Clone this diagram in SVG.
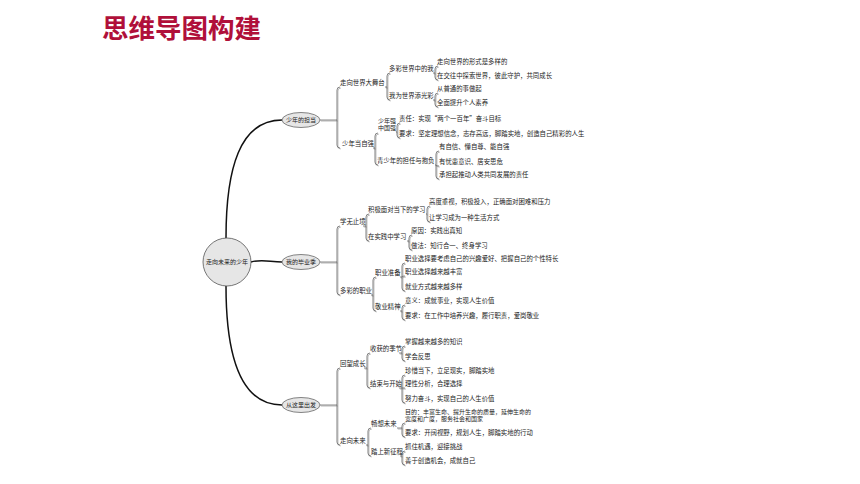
<svg xmlns="http://www.w3.org/2000/svg" xmlns:xlink="http://www.w3.org/1999/xlink" width="860" height="484" viewBox="0 0 860 484">
<defs>
<filter id="sh" x="-5%" y="-50%" width="110%" height="300%">
<feDropShadow dx="0.8" dy="1" stdDeviation="0.35" flood-color="#8a8a8a" flood-opacity="0.9"/>
</filter>
<style>
text{font-family:"Noto Sans CJK SC","Noto Sans",sans-serif;fill:#222;}
.t{font-size:6.4px;}
.t2{font-size:6px;font-family:"Liberation Sans","Noto Sans CJK SC",sans-serif;}
.c{font-size:6px;text-anchor:middle;}
.ul{fill:none;stroke:#333;stroke-width:0.7;filter:url(#sh);}
.br{fill:none;stroke:#555;stroke-width:0.7;}
.root{fill:none;stroke:#111;stroke-width:1.5;}
.ell{fill:#e6e6e6;stroke:#666;stroke-width:0.8;}
.title{font-size:26.5px;font-weight:bold;fill:#B0103A;}
</style>
</defs>
<rect width="860" height="484" fill="#fff"/>
<text class="title" x="102" y="38">思维导图构建</text>

<g id="connectors">
<g class="root">
<path d="M226 238 C226 168 240 120 282 120"/>
<path d="M251 262 C262 259 270 262 282 262"/>
<path d="M226 286 C226 356 240 405 282 405"/>
</g>
<g class="br" filter="url(#sh)">
<path d="M320 120 H337 M337 120 V90 Q337 87 340 87 M337 120 V145 Q337 148 340 148"/>
<path d="M385 87 H387 V76 Q387 73 390 73 M387 87 V97 Q387 100 390 100"/>
<path d="M433 73 H435 V69 Q435 66 438 66 M435 73 V77 Q435 80 438 80"/>
<path d="M433 100 H435 V96 Q435 93 438 93 M435 100 V104 Q435 107 438 107"/>
<path d="M373 148 H375 V136 Q375 133 378 133 M375 148 V162 Q375 165 378 165"/>
<path d="M396 132 H397 V126 Q397 123 400 123 M397 132 V135 Q397 138 400 138"/>
<path d="M435 165 H436 V154 Q436 151 439 151 M436 165 V176 Q436 179 439 179 M436 165 Q436 166 439 166"/>
<path d="M320 262 H337 M337 262 V229 Q337 226 340 226 M337 262 V292 Q337 295 340 295"/>
<path d="M363 226 H366 V217 Q366 214 369 214 M366 226 V238 Q366 241 369 241"/>
<path d="M426 214 H427 V209 Q427 206 430 206 M427 214 V219 Q427 222 430 222"/>
<path d="M407 241 H409 V238 Q409 235 412 235 M409 241 V247 Q409 250 412 250"/>
<path d="M371 295 H373 V280 Q373 277 376 277 M373 295 V308 Q373 311 376 311"/>
<path d="M400 277 H402 V266 Q402 263 405 263 M402 277 V288 Q402 291 405 291 M402 277 Q402 276 405 276"/>
<path d="M400 311 H402 V308 Q402 305 405 305 M402 311 V317 Q402 320 405 320"/>
<path d="M320 405 H337 M337 405 V371 Q337 368 340 368 M337 405 V442 Q337 445 340 445"/>
<path d="M364 368 H367 V356 Q367 353 370 353 M367 368 V385 Q367 388 370 388"/>
<path d="M399 353 H402 V349 Q402 346 405 346 M402 353 V358 Q402 361 405 361"/>
<path d="M399 388 H405 M402 388 V378 Q402 375 405 375 M402 388 V400 Q402 403 405 403"/>
<path d="M366 445 H368 V431 Q368 428 371 428 M368 445 V453 Q368 456 371 456"/>
<path d="M397 428 H402 V426 Q402 423 405 423 M402 428 V434 Q402 437 405 437"/>
<path d="M400 456 H402 V454 Q402 451 405 451 M402 456 V462 Q402 465 405 465"/>
</g>
</g>

<g id="root-node">
<circle cx="227" cy="262" r="24" fill="#e6e6e6" stroke="#555" stroke-width="0.8"/>
<text class="c" x="227" y="264.2">走向未来的少年</text>
</g>

<g id="n-danDang"><ellipse class="ell" cx="301" cy="120" rx="19" ry="7.5"/><text class="c" x="301" y="122.2">少年的担当</text></g>
<g id="n-biye"><ellipse class="ell" cx="301" cy="262" rx="19" ry="7.5"/><text class="c" x="301" y="264.2">我的毕业季</text></g>
<g id="n-chufa"><ellipse class="ell" cx="301" cy="405" rx="19" ry="7.5"/><text class="c" x="301" y="407.2">从这里出发</text></g>

<g id="n-A"><text class="t" x="340" y="85.4">走向世界大舞台</text><path class="ul" d="M340 87 H385"/></g>
<g id="n-A1"><text class="t" x="389" y="71.4">多彩世界中的我</text><path class="ul" d="M390 73 H433"/></g>
<g id="n-A1a"><text class="t" x="437" y="64.4">走向世界的形式是多样的</text><path class="ul" d="M438 66 H508"/></g>
<g id="n-A1b"><text class="t" x="437" y="78.4">在交往中探索世界，彼此守护，共同成长</text><path class="ul" d="M438 80 H553"/></g>
<g id="n-A2"><text class="t" x="389" y="98.4">我为世界添光彩</text><path class="ul" d="M390 100 H433"/></g>
<g id="n-A2a"><text class="t" x="437" y="91.4">从普通的事做起</text><path class="ul" d="M438 93 H483"/></g>
<g id="n-A2b"><text class="t" x="437" y="105.4">全面提升个人素养</text><path class="ul" d="M438 107 H491"/></g>
<g id="n-B"><text class="t" x="342" y="146.4">少年当自强</text><path class="ul" d="M340 148 H373"/></g>
<g id="n-B1"><text class="t2" x="378" y="123">少年强<tspan x="378" y="130.4">中国强</tspan></text><path class="ul" d="M378 132 H396"/></g>
<g id="n-B1a"><text class="t" x="399" y="121.4">责任：实现“两个一百年”奋斗目标</text><path class="ul" d="M400 123 H503"/></g>
<g id="n-B1b"><text class="t" x="399" y="136.4">要求：坚定理想信念，志存高远，脚踏实地，创造自己精彩的人生</text><path class="ul" d="M400 138 H586"/></g>
<g id="n-B2"><text class="t" x="377" y="163.4">青少年的担任与抱负</text><path class="ul" d="M378 165 H435"/></g>
<g id="n-B2a"><text class="t" x="439" y="149.4">有自信、懂自尊、能自强</text><path class="ul" d="M439 151 H509"/></g>
<g id="n-B2b"><text class="t" x="439" y="164.4">有忧患意识、居安思危</text><path class="ul" d="M439 166 H503"/></g>
<g id="n-B2c"><text class="t" x="439" y="177.4">承担起推动人类共同发展的责任</text><path class="ul" d="M439 179 H529"/></g>

<g id="n-C"><text class="t" x="340" y="224.4">学无止境</text><path class="ul" d="M340 226 H363"/></g>
<g id="n-C1"><text class="t" x="368" y="212.4">积极面对当下的学习</text><path class="ul" d="M369 214 H426"/></g>
<g id="n-C1a"><text class="t" x="429" y="204.4">高度重视，积极投入，正确面对困难和压力</text><path class="ul" d="M430 206 H551"/></g>
<g id="n-C1b"><text class="t" x="429" y="220.4">让学习成为一种生活方式</text><path class="ul" d="M430 222 H499"/></g>
<g id="n-C2"><text class="t" x="368" y="239.4">在实践中学习</text><path class="ul" d="M369 241 H407"/></g>
<g id="n-C2a"><text class="t" x="411" y="233.4">原因：实践出真知</text><path class="ul" d="M412 235 H463"/></g>
<g id="n-C2b"><text class="t" x="411" y="248.4">做法：知行合一、终身学习</text><path class="ul" d="M412 250 H488"/></g>
<g id="n-D"><text class="t" x="340" y="293.4">多彩的职业</text><path class="ul" d="M340 295 H371"/></g>
<g id="n-D1"><text class="t" x="375" y="275.4">职业准备</text><path class="ul" d="M376 277 H400"/></g>
<g id="n-D1a"><text class="t" x="405" y="261.4">职业选择要考虑自己的兴趣爱好、把握自己的个性特长</text><path class="ul" d="M405 263 H561"/></g>
<g id="n-D1b"><text class="t" x="405" y="274.4">职业选择越来越丰富</text><path class="ul" d="M405 276 H463"/></g>
<g id="n-D1c"><text class="t" x="405" y="289.4">就业方式越来越多样</text><path class="ul" d="M405 291 H464"/></g>
<g id="n-D2"><text class="t" x="375" y="309.4">敬业精神</text><path class="ul" d="M376 311 H400"/></g>
<g id="n-D2a"><text class="t" x="405" y="303.4">意义：成就事业，实现人生价值</text><path class="ul" d="M405 305 H494"/></g>
<g id="n-D2b"><text class="t" x="405" y="318.4">要求：在工作中培养兴趣，履行职责，爱岗敬业</text><path class="ul" d="M405 320 H538"/></g>

<g id="n-E"><text class="t" x="340" y="366.4">回望成长</text><path class="ul" d="M340 368 H364"/></g>
<g id="n-E1"><text class="t" x="370" y="351.4">收获的季节</text><path class="ul" d="M370 353 H399"/></g>
<g id="n-E1a"><text class="t" x="405" y="344.4">掌握越来越多的知识</text><path class="ul" d="M405 346 H464"/></g>
<g id="n-E1b"><text class="t" x="405" y="359.4">学会反思</text><path class="ul" d="M405 361 H433"/></g>
<g id="n-E2"><text class="t" x="370" y="386.4">结束与开始</text><path class="ul" d="M370 388 H399"/></g>
<g id="n-E2a"><text class="t" x="405" y="373.4">珍惜当下，立足现实，脚踏实地</text><path class="ul" d="M405 375 H496"/></g>
<g id="n-E2b"><text class="t" x="405" y="386.4">理性分析，合理选择</text><path class="ul" d="M405 388 H464"/></g>
<g id="n-E2c"><text class="t" x="405" y="401.4">努力奋斗，实现自己的人生价值</text><path class="ul" d="M405 403 H496"/></g>
<g id="n-F"><text class="t" x="340" y="443.4">走向未来</text><path class="ul" d="M340 445 H366"/></g>
<g id="n-F1"><text class="t" x="371" y="426.4">畅想未来</text><path class="ul" d="M371 428 H397"/></g>
<g id="n-F1a"><text class="t2" x="405" y="414">目的：丰富生命、提升生命的质量，延伸生命的<tspan x="405" y="421.4">宽度和广度，服务社会和国家</tspan></text><path class="ul" d="M405 423 H541"/></g>
<g id="n-F1b"><text class="t" x="405" y="435.4">要求：开阔视野，规划人生，脚踏实地的行动</text><path class="ul" d="M405 437 H534"/></g>
<g id="n-F2"><text class="t" x="371" y="454.4">踏上新征程</text><path class="ul" d="M371 456 H400"/></g>
<g id="n-F2a"><text class="t" x="405" y="449.4">抓住机遇，迎接挑战</text><path class="ul" d="M405 451 H464"/></g>
<g id="n-F2b"><text class="t" x="405" y="463.4">善于创造机会，成就自己</text><path class="ul" d="M405 465 H478"/></g>
</svg>
